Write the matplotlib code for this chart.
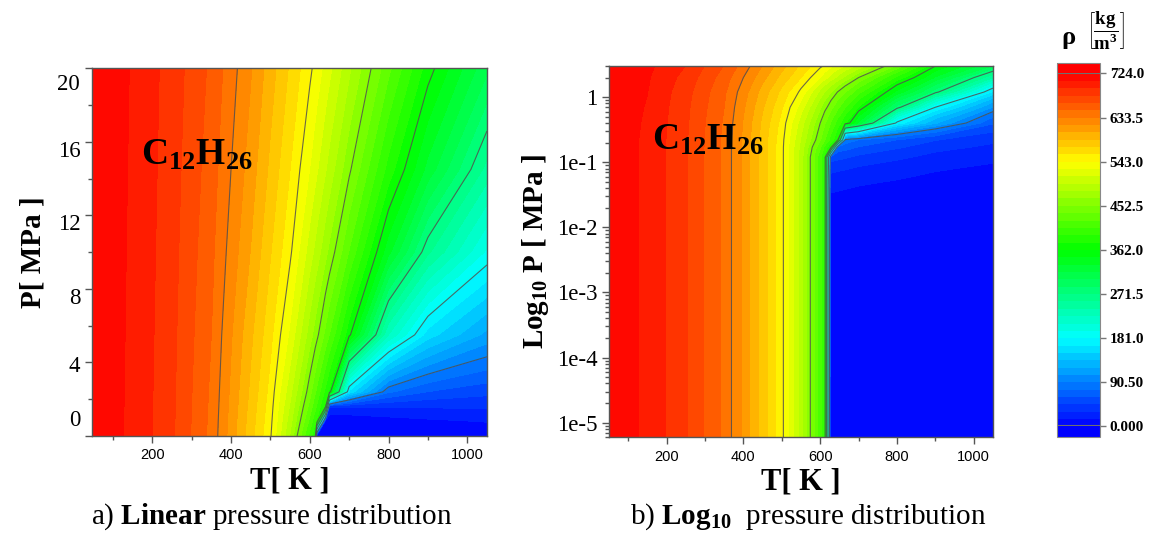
import matplotlib
matplotlib.use("Agg")
import matplotlib.pyplot as plt
import numpy as np
from matplotlib.colors import LinearSegmentedColormap
from matplotlib.ticker import MultipleLocator, LogLocator, NullFormatter
from matplotlib.transforms import ScaledTranslation

# density of n-dodecane [kg/m3] on a (P, T) table, linear pressure axis
T_lin = [50, 150, 250, 350, 450, 500, 550, 600, 614, 618, 640, 650, 700, 800, 900, 1050]
P_lin = [0.0, 0.8, 1.6, 2.4, 5.5, 10.0, 14.5, 20.0]
rho_lin = [
    [718, 706.3, 681.4, 644.1, 579.3, 545.1, 481.3, 400.8, 375.0, 3, 2, 2, 2, 1, 1, 1],
    [718, 706.3, 681.6, 644.7, 580.9, 547.7, 489.0, 418.4, 395.6, 389.1, 1, 1, 2, 8, 12, 16],
    [718, 706.4, 681.8, 645.4, 583.0, 550.2, 495.9, 431.7, 411.0, 405.0, 372.0, 32, 32, 32, 32, 32],
    [718, 706.5, 682.1, 646.0, 585.1, 552.8, 502.7, 443.4, 424.0, 418.4, 387.9, 374.0, 162, 78, 60, 50],
    [718, 706.8, 683.0, 648.6, 591.5, 562.4, 524.7, 474.7, 460.7, 456.7, 432.9, 421.9, 366.8, 226, 158.3, 115.8],
    [718, 707.2, 684.3, 652.3, 602.7, 574.3, 546.0, 505.5, 493.8, 490.5, 472.1, 463.7, 421.3, 336.6, 259.6, 192.9],
    [718, 707.6, 685.6, 656.0, 611.1, 584.7, 558.2, 527.7, 517.7, 514.8, 499.0, 491.8, 455.8, 386.2, 326.5, 251.0],
    [718, 708.1, 687.1, 660.4, 619.8, 595.3, 570.9, 546.4, 538.7, 536.2, 522.7, 516.5, 485.7, 426.3, 369.4, 305.0],
]

# same quantity on a log10 pressure axis
T_log = [50, 150, 250, 350, 400, 450, 500, 550, 600, 612, 628, 645, 665, 700, 800, 900, 1050]
P_log = [6e-6, 0.02, 0.06, 0.12, 0.17, 0.22, 0.4, 0.7, 1.2, 2.0, 3.0]
rho_log = [
    [718, 706.3, 680.5, 645.0, 614.7, 581.2, 547.7, 490.4, 412.3, 386.9, 0.1, 0.1, 0.1, 0.1, 0.1, 0.1, 0.1],
    [718, 706.3, 680.5, 645.0, 614.7, 581.2, 547.7, 490.4, 412.3, 386.9, 8.9, 8.4, 7.9, 7.0, 5.6, 4.2, 3.1],
    [718, 706.3, 680.5, 645.0, 614.7, 581.2, 547.7, 490.4, 412.3, 386.9, 26.7, 25.2, 23.7, 21.0, 16.8, 12.6, 9.4],
    [718, 706.3, 680.5, 645.0, 614.7, 581.2, 547.7, 490.4, 412.3, 386.9, 53.4, 50.4, 47.4, 42.0, 33.6, 25.2, 18.7],
    [718, 706.3, 680.5, 645.0, 614.7, 581.2, 547.7, 492.5, 424.3, 403.2, 375.0, 71.4, 67.2, 59.5, 47.6, 35.7, 26.5],
    [718, 706.3, 680.5, 645.2, 615.4, 581.9, 548.4, 496.6, 439.0, 422.9, 401.3, 378.5, 85, 75, 60, 46, 34],
    [718, 707.0, 681.4, 646.5, 617.3, 585.0, 552.7, 505.7, 452.5, 438.9, 420.8, 401.6, 379.0, 329.1, 175.7, 122.4, 62.4],
    [718, 708.0, 682.5, 648.6, 620.7, 590.4, 560.0, 520.9, 470.6, 458.5, 443.2, 427.3, 408.6, 376.0, 281.0, 181.0, 104.6],
    [718, 709.2, 684.5, 651.2, 625.6, 597.3, 569.0, 539.3, 493.6, 482.7, 468.0, 452.5, 438.0, 412.7, 342.6, 278.0, 163.4],
    [718, 710.6, 688.6, 656.5, 633.5, 608.4, 583.2, 558.1, 527.9, 518.9, 506.8, 494.0, 478.9, 452.5, 387.9, 330.1, 242.9],
    [719, 712.4, 693.5, 662.9, 642.0, 617.8, 594.0, 570.2, 546.3, 540.3, 531.7, 522.5, 511.8, 492.9, 434.4, 362.0, 300.0],
]

rho_levels = np.linspace(0, 724, 49)
line_levels = [90.5, 181.0, 271.5, 362.0, 452.5, 543.0, 633.5]
cbar_ticks = [0, 90.5, 181.0, 271.5, 362.0, 452.5, 543.0, 633.5, 724.0]
cbar_labels = ["0.000", "90.50", "181.0", "271.5", "362.0", "452.5", "543.0", "633.5", "724.0"]
lin_ticks = [0, 4, 8, 12, 16, 20]
log_ticks = [1e-5, 1e-4, 1e-3, 1e-2, 1e-1, 1]
log_labels = ["1e-5", "1e-4", "1e-3", "1e-2", "1e-1", "1"]

plt.rcParams["font.family"] = "Liberation Serif"
plt.rcParams["mathtext.fontset"] = "custom"
plt.rcParams["mathtext.rm"] = "Liberation Serif"
plt.rcParams["mathtext.bf"] = "Liberation Serif:bold"
plt.rcParams["mathtext.it"] = "Liberation Serif:italic"

frame = "#555555"
rainbow = LinearSegmentedColormap.from_list(
    "rainbow5", ["#0000ff", "#00ffff", "#00ff00", "#ffff00", "#ff0000"])

fig = plt.figure(figsize=(11.6, 5.33), dpi=100)
ax1 = fig.add_axes([0.0793, 0.182, 0.3405, 0.690])
ax2 = fig.add_axes([0.525, 0.180, 0.331, 0.696])
cax = fig.add_axes([0.9112, 0.180, 0.0371, 0.702])


def density_map(ax, T, P, rho):
    cf = ax.contourf(T, P, rho, levels=rho_levels, cmap=rainbow, extend="both")
    ax.contour(T, P, rho, levels=line_levels, colors="#505050", linewidths=0.8, alpha=0.85)
    for sp in ax.spines.values():
        sp.set_color(frame)
        sp.set_linewidth(1.0)
    ax.xaxis.set_major_locator(MultipleLocator(200))
    ax.xaxis.set_minor_locator(MultipleLocator(100))
    ax.tick_params(axis="x", which="both", direction="out", color=frame, width=1,
                   labelsize=10.5, labelfontfamily="Liberation Sans", pad=4)
    ax.tick_params(axis="y", which="both", direction="out", color=frame, width=1, labelsize=16.5)
    ax.tick_params(which="major", length=5)
    ax.tick_params(which="minor", length=3)
    ax.set_xlabel("T[ K ]", fontsize=22, fontweight="bold", labelpad=3)
    return cf


# a) linear pressure axis
cf = density_map(ax1, T_lin, P_lin, rho_lin)
ax1.set_xlim(47, 1050)
ax1.set_ylim(0, 20)
ax1.set_yticks(lin_ticks)
ax1.yaxis.set_minor_locator(MultipleLocator(2))
ax1.set_ylabel("P[ MPa ]", fontsize=21, fontweight="bold", labelpad=8)
ax1.text(0.266, 0.764, r"$\mathbf{C_{12}H_{26}}$", transform=ax1.transAxes,
         fontsize=27, ha="center", va="center")

# b) log10 pressure axis
density_map(ax2, T_log, P_log, rho_log)
ax2.set_yscale("log")
ax2.set_xlim(50, 1050)
ax2.set_ylim(6e-6, 3.0)
ax2.set_yticks(log_ticks)
ax2.set_yticklabels(log_labels)
ax2.yaxis.set_minor_locator(LogLocator(base=10, subs=np.arange(2, 10)))
ax2.yaxis.set_minor_formatter(NullFormatter())
ax2.set_ylabel(r"$\mathbf{Log_{10}\ P\ [\ MPa\ ]}$", fontsize=21, labelpad=4)
ax2.text(0.258, 0.80, r"$\mathbf{C_{12}H_{26}}$", transform=ax2.transAxes,
         fontsize=27, ha="center", va="center")

# pressure labels on the linear axis sit slightly inside their ticks
label_shift_px = [18, -2, -7, -7, -7, -14]
for tick, dy in zip(ax1.yaxis.get_major_ticks(), label_shift_px):
    tick.label1.set_transform(tick.label1.get_transform()
                              + ScaledTranslation(0, dy / 100, fig.dpi_scale_trans))

# shared colour scale
cb = fig.colorbar(cf, cax=cax, ticks=cbar_ticks, extendrect=True, extendfrac=0.03)
cb.ax.set_yticklabels(cbar_labels)
for lab in cb.ax.get_yticklabels():
    lab.set_fontweight("bold")
cb.ax.tick_params(labelsize=11, length=4, width=1, color="#777777", pad=3)
cb.outline.set_edgecolor("#888888")
cb.ax.axhline(724, color="#707070", lw=1.5)
cb.ax.axhline(0, color="#707070", lw=1.5)
fig.text(0.921, 0.918, "ρ", fontsize=19, fontweight="bold", ha="center", va="baseline")
fig.text(0.953, 0.942, r"$\left[\dfrac{\mathbf{kg}}{\mathbf{m^3}}\right]$",
         fontsize=13.5, ha="center", va="center")

fig.text(0.2345, 0.03, r"a) $\mathbf{Linear}$ pressure distribution", fontsize=21,
         ha="center", va="center")
fig.text(0.6966, 0.03, r"b) $\mathbf{Log_{10}}$  pressure distribution", fontsize=21,
         ha="center", va="center")

fig.savefig("out.png", dpi=100)
